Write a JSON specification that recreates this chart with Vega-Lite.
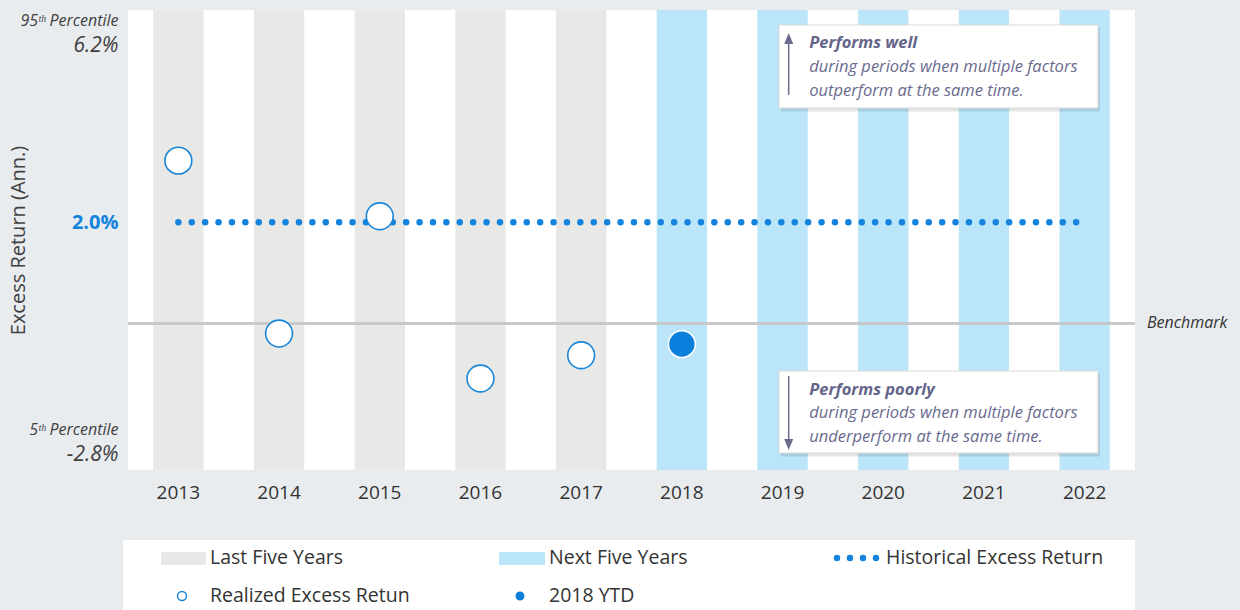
{
  "$schema": "https://vega.github.io/schema/vega-lite/v6.json",
  "width": 1007,
  "height": 460,
  "autosize": {"type": "none"},
  "padding": {"left": 128, "top": 10, "right": 105, "bottom": 140},
  "background": "#e9ecef",
  "config": {"view": {"fill": "white", "stroke": null}, "font": "Open Sans"},
  "data": {"values": [
    {"year": "2013", "period": "Last Five Years", "hist": 2.0, "value": 3.22, "type": "Realized Excess Retun"},
    {"year": "2014", "period": "Last Five Years", "hist": 2.0, "value": -0.2, "type": "Realized Excess Retun"},
    {"year": "2015", "period": "Last Five Years", "hist": 2.0, "value": 2.12, "type": "Realized Excess Retun"},
    {"year": "2016", "period": "Last Five Years", "hist": 2.0, "value": -1.09, "type": "Realized Excess Retun"},
    {"year": "2017", "period": "Last Five Years", "hist": 2.0, "value": -0.63, "type": "Realized Excess Retun"},
    {"year": "2018", "period": "Next Five Years", "hist": 2.0, "value": -0.41, "type": "2018 YTD"},
    {"year": "2019", "period": "Next Five Years", "hist": 2.0, "value": null, "type": null},
    {"year": "2020", "period": "Next Five Years", "hist": 2.0, "value": null, "type": null},
    {"year": "2021", "period": "Next Five Years", "hist": 2.0, "value": null, "type": null},
    {"year": "2022", "period": "Next Five Years", "hist": 2.0, "value": null, "type": null}
  ]},
  "layer": [
    {
      "mark": {"type": "bar"},
      "encoding": {
        "x": {"field": "year", "type": "ordinal",
              "scale": {"domain": ["2013","2014","2015","2016","2017","2018","2019","2020","2021","2022"], "paddingInner": 0.5, "paddingOuter": 0.25},
              "axis": {"title": null, "labelAngle": 0, "ticks": false, "domain": false, "grid": false, "labelPadding": 13, "labelFontSize": 19, "labelColor": "#333333"}},
        "color": {"field": "period", "type": "nominal",
          "scale": {"domain": ["Last Five Years", "Next Five Years"], "range": ["#e8e8e7", "#bbe5f8"]},
          "legend": null}
      }
    },
    {
      "mark": {"type": "rule", "color": "#c8c8c8", "strokeWidth": 1.5},
      "encoding": {
        "y": {"datum": 0, "type": "quantitative", "scale": {"domain": [-2.9, 6.2], "nice": false, "zero": false}}
      }
    },
    {
      "data": {"values": [{"label": "Benchmark"}]},
      "mark": {"type": "text", "align": "left", "baseline": "middle", "fontSize": 16, "fontStyle": "italic", "color": "#333333"},
      "encoding": {
        "x": {"datum": "2022", "type": "ordinal", "bandPosition": 1.738},
        "y": {"datum": 0, "type": "quantitative", "scale": {"domain": [-2.9, 6.2], "nice": false, "zero": false}},
        "text": {"field": "label"}
      }
    },
    {
      "mark": {"type": "line", "color": "#1383dd", "strokeWidth": 6.5, "strokeCap": "round", "strokeDash": [0, 13.4]},
      "encoding": {
        "x": {"field": "year", "type": "ordinal"},
        "y": {"field": "hist", "type": "quantitative", "scale": {"domain": [-2.9, 6.2], "nice": false, "zero": false},
              "axis": {
                "title": "Excess Return (Ann.)", "values": [6.0, 5.5, 2.0, -2.09, -2.6],
                "labelExpr": "datum.value == 6 ? '95ᵗʰ Percentile' : datum.value == 5.5 ? '6.2%' : datum.value == 2 ? '2.0%' : datum.value == -2.09 ? '5ᵗʰ Percentile' : '-2.8%'",
                "ticks": false, "domain": false, "grid": false, "labelPadding": 10, "labelOverlap": false,
                "labelFontSize": {"condition": [{"test": "datum.value == 6 || datum.value == -2.09", "value": 16}, {"test": "datum.value == 2", "value": 20}], "value": 21},
                "labelFontStyle": {"condition": {"test": "datum.value == 2", "value": "normal"}, "value": "italic"},
                "labelFontWeight": {"condition": {"test": "datum.value == 2", "value": "bold"}, "value": "normal"},
                "labelColor": {"condition": {"test": "datum.value == 2", "value": "#1383dd"}, "value": "#404040"},
                "titleX": -110, "titleBaseline": "middle", "titleFontSize": 20, "titleFontWeight": "normal", "titleColor": "#404040"
              }}
      }
    },
    {
      "transform": [{"filter": "datum.type == 'Realized Excess Retun'"}],
      "mark": {"type": "point", "shape": "circle", "size": 720, "filled": true, "fill": "#ffffff", "stroke": "#1a86d9", "strokeWidth": 1.6, "opacity": 1},
      "encoding": {
        "x": {"field": "year", "type": "ordinal"},
        "y": {"field": "value", "type": "quantitative", "scale": {"domain": [-2.9, 6.2], "nice": false, "zero": false}}
      }
    },
    {
      "transform": [{"filter": "datum.type == '2018 YTD'"}],
      "mark": {"type": "point", "shape": "circle", "size": 720, "filled": true, "fill": "#0a7fdc", "stroke": "#ffffff", "strokeWidth": 1.5, "opacity": 1},
      "encoding": {
        "x": {"field": "year", "type": "ordinal"},
        "y": {"field": "value", "type": "quantitative", "scale": {"domain": [-2.9, 6.2], "nice": false, "zero": false}}
      }
    },
    {
      "data": {"values": [{"box": "top"}]},
      "mark": {"type": "rect", "fill": "#000000", "opacity": 0.1},
      "encoding": {
        "x": {"datum": "2019", "type": "ordinal", "bandPosition": 0.47},
        "x2": {"datum": "2022", "bandPosition": 0.805},
        "y": {"datum": 5.86, "type": "quantitative", "scale": {"domain": [-2.9, 6.2], "nice": false, "zero": false}},
        "y2": {"datum": 4.19}
      }
    },
    {
      "data": {"values": [{"box": "top"}]},
      "mark": {"type": "rect", "fill": "#ffffff", "stroke": "#d9d9d9", "strokeWidth": 1},
      "encoding": {
        "x": {"datum": "2019", "type": "ordinal", "bandPosition": 0.43},
        "x2": {"datum": "2022", "bandPosition": 0.765},
        "y": {"datum": 5.903, "type": "quantitative", "scale": {"domain": [-2.9, 6.2], "nice": false, "zero": false}},
        "y2": {"datum": 4.261}
      }
    },
    {
      "data": {"values": [{"box": "top"}]},
      "mark": {"type": "rule", "color": "#6b6b8d", "strokeWidth": 1.5},
      "encoding": {
        "x": {"datum": "2019", "type": "ordinal", "bandPosition": 0.622},
        "y": {"datum": 4.518, "type": "quantitative", "scale": {"domain": [-2.9, 6.2], "nice": false, "zero": false}},
        "y2": {"datum": 5.6}
      }
    },
    {
      "data": {"values": [{"box": "top"}]},
      "mark": {"type": "point", "shape": "M0,-1.1L0.9,1.1L-0.9,1.1Z", "size": 100, "filled": true, "color": "#6b6b8d", "opacity": 1},
      "encoding": {
        "x": {"datum": "2019", "type": "ordinal", "bandPosition": 0.622},
        "y": {"datum": 5.636, "type": "quantitative", "scale": {"domain": [-2.9, 6.2], "nice": false, "zero": false}}
      }
    },
    {
      "data": {"values": [{"box": "top"}]},
      "mark": {"type": "text", "align": "left", "baseline": "middle", "fontSize": 16.5, "fontWeight": "bold", "fontStyle": "italic", "color": "#65658a"},
      "encoding": {
        "x": {"datum": "2019", "type": "ordinal", "bandPosition": 1.031},
        "y": {"datum": 5.541, "type": "quantitative", "scale": {"domain": [-2.9, 6.2], "nice": false, "zero": false}},
        "text": {"value": "Performs well"}
      }
    },
    {
      "data": {"values": [{"box": "top"}]},
      "mark": {"type": "text", "align": "left", "baseline": "middle", "fontSize": 16.5, "fontStyle": "italic", "color": "#6a6a8e", "lineHeight": 24},
      "encoding": {
        "x": {"datum": "2019", "type": "ordinal", "bandPosition": 1.031},
        "y": {"datum": 5.079, "type": "quantitative", "scale": {"domain": [-2.9, 6.2], "nice": false, "zero": false}},
        "text": {"value": ["during periods when multiple factors", "outperform at the same time."]}
      }
    },
    {
      "data": {"values": [{"box": "bottom"}]},
      "mark": {"type": "rect", "fill": "#000000", "opacity": 0.1},
      "encoding": {
        "x": {"datum": "2019", "type": "ordinal", "bandPosition": 0.47},
        "x2": {"datum": "2022", "bandPosition": 0.805},
        "y": {"datum": -0.985, "type": "quantitative", "scale": {"domain": [-2.9, 6.2], "nice": false, "zero": false}},
        "y2": {"datum": -2.634}
      }
    },
    {
      "data": {"values": [{"box": "bottom"}]},
      "mark": {"type": "rect", "fill": "#ffffff", "stroke": "#d9d9d9", "strokeWidth": 1},
      "encoding": {
        "x": {"datum": "2019", "type": "ordinal", "bandPosition": 0.43},
        "x2": {"datum": "2022", "bandPosition": 0.765},
        "y": {"datum": -0.942, "type": "quantitative", "scale": {"domain": [-2.9, 6.2], "nice": false, "zero": false}},
        "y2": {"datum": -2.564}
      }
    },
    {
      "data": {"values": [{"box": "bottom"}]},
      "mark": {"type": "rule", "color": "#6b6b8d", "strokeWidth": 1.5},
      "encoding": {
        "x": {"datum": "2019", "type": "ordinal", "bandPosition": 0.622},
        "y": {"datum": -1.04, "type": "quantitative", "scale": {"domain": [-2.9, 6.2], "nice": false, "zero": false}},
        "y2": {"datum": -2.36}
      }
    },
    {
      "data": {"values": [{"box": "bottom"}]},
      "mark": {"type": "point", "shape": "M0,1.1L0.9,-1.1L-0.9,-1.1Z", "size": 100, "filled": true, "color": "#6b6b8d", "opacity": 1},
      "encoding": {
        "x": {"datum": "2019", "type": "ordinal", "bandPosition": 0.622},
        "y": {"datum": -2.395, "type": "quantitative", "scale": {"domain": [-2.9, 6.2], "nice": false, "zero": false}}
      }
    },
    {
      "data": {"values": [{"box": "bottom"}]},
      "mark": {"type": "text", "align": "left", "baseline": "middle", "fontSize": 16.5, "fontWeight": "bold", "fontStyle": "italic", "color": "#65658a"},
      "encoding": {
        "x": {"datum": "2019", "type": "ordinal", "bandPosition": 1.031},
        "y": {"datum": -1.317, "type": "quantitative", "scale": {"domain": [-2.9, 6.2], "nice": false, "zero": false}},
        "text": {"value": "Performs poorly"}
      }
    },
    {
      "data": {"values": [{"box": "bottom"}]},
      "mark": {"type": "text", "align": "left", "baseline": "middle", "fontSize": 16.5, "fontStyle": "italic", "color": "#6a6a8e", "lineHeight": 24},
      "encoding": {
        "x": {"datum": "2019", "type": "ordinal", "bandPosition": 1.031},
        "y": {"datum": -1.778, "type": "quantitative", "scale": {"domain": [-2.9, 6.2], "nice": false, "zero": false}},
        "text": {"value": ["during periods when multiple factors", "underperform at the same time."]}
      }
    },
    {
      "data": {"values": [{"entry": "legend box"}]},
      "mark": {"type": "rect", "fill": "#ffffff"},
      "encoding": {
        "x": {"datum": "2013", "type": "ordinal", "bandPosition": -0.599},
        "x2": {"datum": "2022", "bandPosition": 1.5},
        "y": {"datum": -4.285, "type": "quantitative", "scale": {"domain": [-2.9, 6.2], "nice": false, "zero": false}},
        "y2": {"datum": -5.95}
      }
    },
    {
      "data": {"values": [{"entry": "Last Five Years"}]},
      "mark": {"type": "rect", "fill": "#e8e8e7"},
      "encoding": {
        "x": {"datum": "2013", "type": "ordinal", "bandPosition": 0.155},
        "x2": {"datum": "2013", "bandPosition": 1.049},
        "y": {"datum": -4.523, "type": "quantitative", "scale": {"domain": [-2.9, 6.2], "nice": false, "zero": false}},
        "y2": {"datum": -4.78}
      }
    },
    {
      "data": {"values": [{"entry": "Next Five Years"}]},
      "mark": {"type": "rect", "fill": "#bbe5f8"},
      "encoding": {
        "x": {"datum": "2016", "type": "ordinal", "bandPosition": 0.868},
        "x2": {"datum": "2016", "bandPosition": 1.782},
        "y": {"datum": -4.523, "type": "quantitative", "scale": {"domain": [-2.9, 6.2], "nice": false, "zero": false}},
        "y2": {"datum": -4.78}
      }
    },
    {
      "data": {"values": [{"entry": "Historical Excess Return"}]},
      "mark": {"type": "rule", "color": "#1383dd", "strokeWidth": 6.5, "strokeCap": "round", "strokeDash": [0, 13]},
      "encoding": {
        "x": {"datum": "2020", "type": "ordinal", "bandPosition": -0.419},
        "x2": {"datum": "2020", "bandPosition": 0.4},
        "y": {"datum": -4.641, "type": "quantitative", "scale": {"domain": [-2.9, 6.2], "nice": false, "zero": false}}
      }
    },
    {
      "data": {"values": [{"entry": "Realized Excess Retun"}]},
      "mark": {"type": "point", "shape": "circle", "size": 80, "filled": true, "fill": "#ffffff", "stroke": "#1a86d9", "strokeWidth": 1.5, "opacity": 1},
      "encoding": {
        "x": {"datum": "2013", "type": "ordinal", "bandPosition": 0.5725},
        "y": {"datum": -5.393, "type": "quantitative", "scale": {"domain": [-2.9, 6.2], "nice": false, "zero": false}}
      }
    },
    {
      "data": {"values": [{"entry": "2018 YTD"}]},
      "mark": {"type": "point", "shape": "circle", "size": 80, "filled": true, "fill": "#0a7fdc", "opacity": 1},
      "encoding": {
        "x": {"datum": "2016", "type": "ordinal", "bandPosition": 1.2855},
        "y": {"datum": -5.393, "type": "quantitative", "scale": {"domain": [-2.9, 6.2], "nice": false, "zero": false}}
      }
    },
    {
      "data": {"values": [{"entry": "Last Five Years"}]},
      "mark": {"type": "text", "align": "left", "baseline": "middle", "fontSize": 19.5, "color": "#333333"},
      "encoding": {
        "x": {"datum": "2013", "type": "ordinal", "bandPosition": 1.129},
        "y": {"datum": -4.641, "type": "quantitative", "scale": {"domain": [-2.9, 6.2], "nice": false, "zero": false}},
        "text": {"field": "entry"}
      }
    },
    {
      "data": {"values": [{"entry": "Next Five Years"}]},
      "mark": {"type": "text", "align": "left", "baseline": "middle", "fontSize": 19.5, "color": "#333333"},
      "encoding": {
        "x": {"datum": "2016", "type": "ordinal", "bandPosition": 1.862},
        "y": {"datum": -4.641, "type": "quantitative", "scale": {"domain": [-2.9, 6.2], "nice": false, "zero": false}},
        "text": {"field": "entry"}
      }
    },
    {
      "data": {"values": [{"entry": "Historical Excess Return"}]},
      "mark": {"type": "text", "align": "left", "baseline": "middle", "fontSize": 19.5, "color": "#333333"},
      "encoding": {
        "x": {"datum": "2020", "type": "ordinal", "bandPosition": 0.555},
        "y": {"datum": -4.641, "type": "quantitative", "scale": {"domain": [-2.9, 6.2], "nice": false, "zero": false}},
        "text": {"field": "entry"}
      }
    },
    {
      "data": {"values": [{"entry": "Realized Excess Retun"}]},
      "mark": {"type": "text", "align": "left", "baseline": "middle", "fontSize": 19.5, "color": "#333333"},
      "encoding": {
        "x": {"datum": "2013", "type": "ordinal", "bandPosition": 1.129},
        "y": {"datum": -5.393, "type": "quantitative", "scale": {"domain": [-2.9, 6.2], "nice": false, "zero": false}},
        "text": {"field": "entry"}
      }
    },
    {
      "data": {"values": [{"entry": "2018 YTD"}]},
      "mark": {"type": "text", "align": "left", "baseline": "middle", "fontSize": 19.5, "color": "#333333"},
      "encoding": {
        "x": {"datum": "2016", "type": "ordinal", "bandPosition": 1.862},
        "y": {"datum": -5.393, "type": "quantitative", "scale": {"domain": [-2.9, 6.2], "nice": false, "zero": false}},
        "text": {"field": "entry"}
      }
    }
  ]
}
